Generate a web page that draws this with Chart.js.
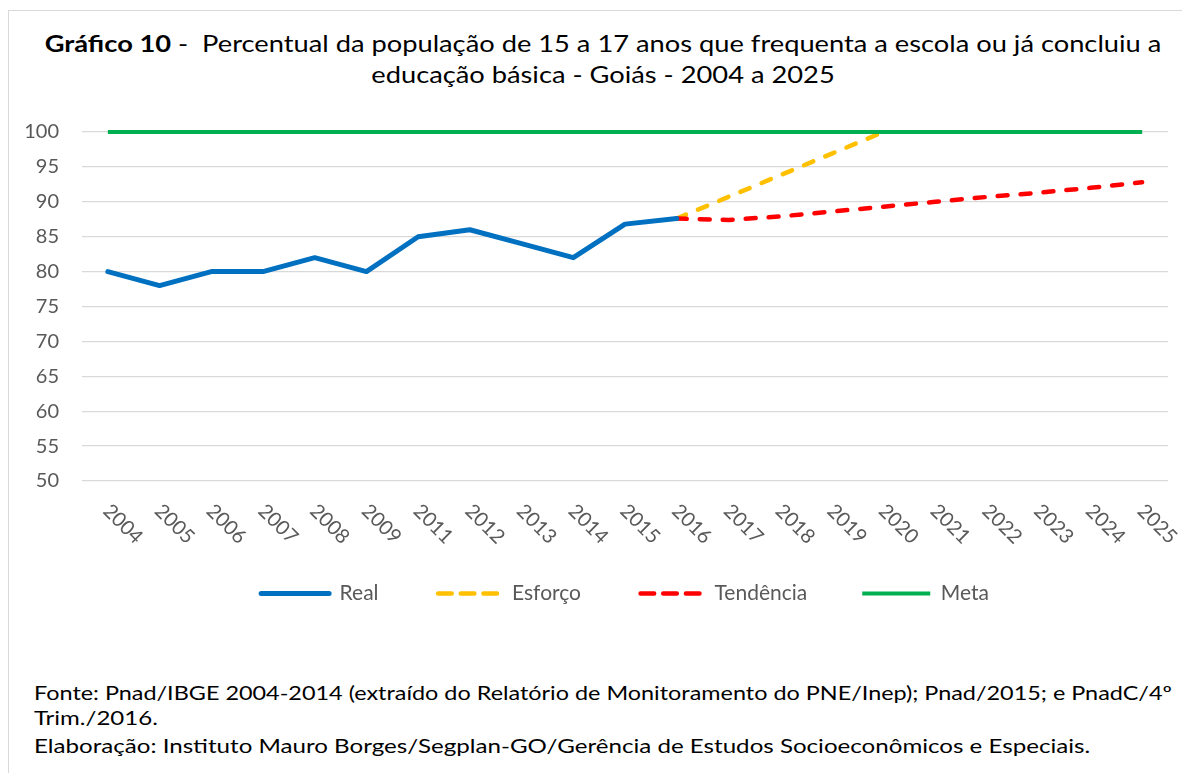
<!doctype html>
<html lang="pt">
<head>
    <meta charset="utf-8">
    <title>Gráfico 10 - Goiás</title>
    <script src="https://cdnjs.cloudflare.com/ajax/libs/Chart.js/4.4.1/chart.umd.min.js"></script>
    <style>
        body { margin: 0; background: #fff; font-family: Lato, "Noto Sans", sans-serif; }
        #frame { position: absolute; left: 8px; top: 10px; width: 1300px; height: 900px; border: 1.5px solid #d9d9d9; }
        #title { position: absolute; left: 0; top: 28px; width: 1206px; text-align: center; font-size: 23.5px; line-height: 31px;
            color: #000; transform: scaleX(1.16); transform-origin: 603px 0; }
        #wrap { position: absolute; left: 9px; top: 97px; width: 1173px; height: 517px; }
        #foot { position: absolute; left: 34px; top: 680px; font-size: 19px; color: #000; }
        #foot div { line-height: 25px; white-space: nowrap; }
        #foot span { display: inline-block; transform-origin: 0 0; }
    </style>
</head>
<body>
<div id="frame"></div>
<div id="title"><b>Gráfico 10</b> -&nbsp; Percentual da população de 15 a 17 anos que frequenta a escola ou já concluiu a<br>educação básica - Goiás - 2004 a 2025</div>
<div id="wrap"><canvas id="chart"></canvas></div>
<div id="foot">
    <div><span data-w="1138">Fonte: Pnad/IBGE 2004-2014 (extraído do Relatório de Monitoramento do PNE/Inep); Pnad/2015; e PnadC/4º</span></div>
    <div><span data-w="124">Trim./2016.</span></div>
    <div style="margin-top:3px"><span data-w="1056">Elaboração: Instituto Mauro Borges/Segplan-GO/Gerência de Estudos Socioeconômicos e Especiais.</span></div>
</div>

<script>
    // stretch each footer line to the width it has in the original
    document.querySelectorAll('#foot span').forEach(s => {
        s.style.transform = 'scaleX(' + (+s.dataset.w / s.offsetWidth) + ')';
    });

    const years = ['2004', '2005', '2006', '2007', '2008', '2009', '2011', '2012', '2013', '2014', '2015',
        '2016', '2017', '2018', '2019', '2020', '2021', '2022', '2023', '2024', '2025'];
    const real = [80, 78, 80, 80, 82, 80, 85, 86, 84, 82, 86.8, 87.6,
        null, null, null, null, null, null, null, null, null];
    const esforco = [null, null, null, null, null, null, null, null, null, null, null,
        87.6, 90.7, 93.8, 96.9, 100, null, null, null, null, null];
    const tendencia = [null, null, null, null, null, null, null, null, null, null, null,
        87.6, 87.4, 87.9, 88.6, 89.3, 90.0, 90.7, 91.3, 92.0, 92.8];
    const meta = [100, 100, 100, 100, 100, 100, 100, 100, 100, 100, 100,
        100, 100, 100, 100, 100, 100, 100, 100, 100, 100];
    const yTicks = [50, 55, 60, 65, 70, 75, 80, 85, 90, 95, 100];

    const textColor = '#595959';
    const font = 'Lato';

    // x labels turned 45 degrees clockwise, like the spreadsheet does
    const slantedLabels = {
        id: 'slantedLabels',
        afterDraw(chart) {
            const ctx = chart.ctx;
            const xs = chart.scales.x;
            ctx.save();
            ctx.fillStyle = textColor;
            ctx.font = '20px ' + font;
            ctx.textAlign = 'center';
            ctx.textBaseline = 'middle';
            years.forEach((y, i) => {
                const px = xs.getPixelForTick(i);
                ctx.save();
                ctx.translate(px + 15, xs.top + 43);
                ctx.rotate(Math.PI / 4);
                ctx.fillText(y, 0, 0);
                ctx.restore();
            });
            ctx.restore();
        }
    };

    const boxW = 68;
    const dashP = boxW / 3;

    new Chart(document.getElementById('chart'), {
        type: 'line',
        data: {
            labels: years,
            datasets: [
                { label: 'Real', data: real, borderColor: '#0070C0', backgroundColor: '#0070C0',
                    borderWidth: 5, borderCapStyle: 'round', borderJoinStyle: 'round', order: 1, clip: false },
                { label: 'Esforço', data: esforco, borderColor: '#FFC000', backgroundColor: '#FFC000',
                    borderWidth: 4.5, borderDash: [10, 13], borderCapStyle: 'round', order: 3, clip: false },
                { label: 'Tendência', data: tendencia, borderColor: '#FF0000', backgroundColor: '#FF0000',
                    borderWidth: 4.5, borderDash: [10, 13], borderCapStyle: 'round', order: 2, clip: false },
                { label: 'Meta', data: meta, borderColor: '#00B050', backgroundColor: '#00B050',
                    borderWidth: 4, borderCapStyle: 'butt', order: 0, clip: false },
            ],
        },
        options: {
            responsive: true,
            maintainAspectRatio: false,
            animation: false,
            elements: { point: { radius: 0 }, line: { tension: 0 } },
            layout: { padding: { top: 5, right: 14, left: 0, bottom: 0 } },
            plugins: {
                tooltip: { enabled: false },
                legend: {
                    position: 'bottom',
                    fullSize: false,
                    labels: {
                        font: { family: font, size: 21 },
                        color: textColor,
                        boxWidth: boxW,
                        boxHeight: 0,
                        padding: 55,
                        generateLabels(chart) {
                            const items = Chart.defaults.plugins.legend.labels.generateLabels(chart);
                            items.sort((a, b) => a.datasetIndex - b.datasetIndex);
                            items.forEach(it => {
                                if (it.lineDash && it.lineDash.length) {
                                    const g = dashP * 0.4;
                                    it.lineDash = [dashP - g, g];
                                    it.lineDashOffset = -g / 2;
                                }
                            });
                            return items;
                        },
                    },
                },
            },
            scales: {
                x: {
                    offset: true,
                    grid: { display: false },
                    border: { display: false },
                    ticks: { display: false },
                    afterFit(scale) { scale.height = 47; },
                },
                y: {
                    min: 50,
                    max: 100,
                    afterBuildTicks(scale) { scale.ticks = yTicks.map(v => ({ value: v })); },
                    grid: { color: '#d9d9d9', lineWidth: 1.3, drawTicks: false },
                    border: { display: false },
                    ticks: { color: textColor, font: { family: font, size: 20 }, padding: 23 },
                    afterFit(scale) { scale.width = 73; },
                },
            },
        },
        plugins: [slantedLabels],
    });
</script>
</body>
</html>
